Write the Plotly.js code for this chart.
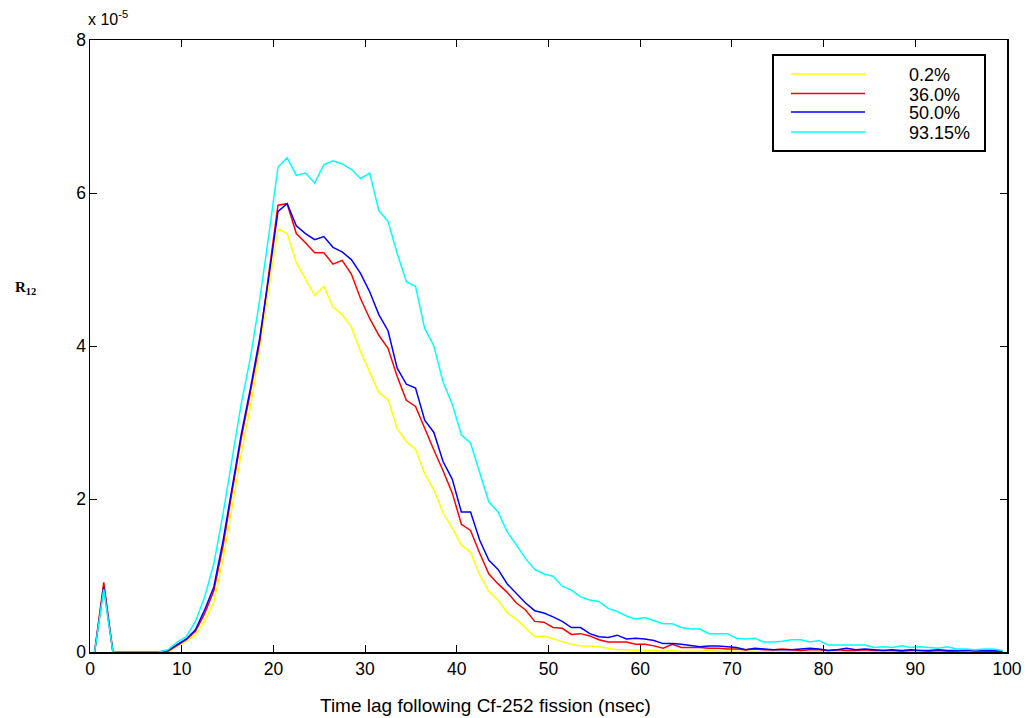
<!DOCTYPE html>
<html>
<head>
<meta charset="utf-8">
<script src="https://cdn.plot.ly/plotly-3.0.1.min.js"></script>
<style>html,body{margin:0;padding:0;background:#fff;}#chart{width:1030px;height:718px;}</style>
</head>
<body>
<div id="chart"></div>
<script>
// Time lag bin centres (nsec)
const timeLag = [0.5,1.5,2.5,3.5,4.5,5.5,6.5,7.5,8.5,9.5,10.5,11.5,12.5,13.5,14.5,15.5,16.5,17.5,18.5,19.5,
20.5,21.5,22.5,23.5,24.5,25.5,26.5,27.5,28.5,29.5,30.5,31.5,32.5,33.5,34.5,35.5,36.5,37.5,38.5,39.5,
40.5,41.5,42.5,43.5,44.5,45.5,46.5,47.5,48.5,49.5,50.5,51.5,52.5,53.5,54.5,55.5,56.5,57.5,58.5,59.5,
60.5,61.5,62.5,63.5,64.5,65.5,66.5,67.5,68.5,69.5,70.5,71.5,72.5,73.5,74.5,75.5,76.5,77.5,78.5,79.5,
80.5,81.5,82.5,83.5,84.5,85.5,86.5,87.5,88.5,89.5,90.5,91.5,92.5,93.5,94.5,95.5,96.5,97.5,98.5,99.5];

// R12 values in units of 1e-5
const r12_0_2 = [0,0.88,0,0,0,0,0,0,0,0.07,0.15,0.22,0.40,0.65,1.20,1.90,2.60,3.20,3.95,4.75,
5.53,5.47,5.09,4.88,4.66,4.78,4.51,4.41,4.25,3.93,3.66,3.39,3.30,2.92,2.75,2.65,2.33,2.12,1.82,1.62,
1.40,1.30,1.01,0.79,0.68,0.51,0.43,0.31,0.20,0.21,0.17,0.13,0.10,0.08,0.08,0.07,0.05,0.03,0.03,0.02,
0.02,0.02,0.01,0.02,0.01,0.01,0.01,0.02,0.01,0.01,0.01,0.01,0.01,0.00,0.01,0.01,0.00,0.01,0.00,0.01,
0.00,0.00,0.01,0.00,0.00,0.00,0.01,0.00,0.00,0.00,0.00,0.00,0.00,0.00,0.00,0.00,0.00,0.00,0.00,0.00];

const r12_36_0 = [0,0.91,0,0,0,0,0,0,0.01,0.09,0.16,0.27,0.50,0.80,1.38,2.10,2.80,3.40,4.05,4.95,
5.84,5.86,5.47,5.35,5.22,5.22,5.07,5.12,4.94,4.62,4.36,4.14,3.97,3.60,3.29,3.21,2.92,2.64,2.37,2.08,
1.67,1.59,1.29,1.02,0.89,0.78,0.64,0.55,0.40,0.39,0.32,0.31,0.23,0.24,0.21,0.16,0.13,0.13,0.13,0.10,
0.10,0.08,0.05,0.10,0.06,0.06,0.06,0.05,0.05,0.04,0.04,0.03,0.04,0.03,0.03,0.04,0.03,0.02,0.03,0.03,
0.02,0.03,0.02,0.02,0.03,0.02,0.02,0.02,0.01,0.02,0.02,0.01,0.02,0.01,0.01,0.02,0.01,0.01,0.01,0.01];

const r12_50_0 = [0,0.85,0,0,0,0,0,0,0.02,0.10,0.17,0.29,0.55,0.85,1.45,2.15,2.85,3.45,4.10,4.90,
5.76,5.86,5.57,5.47,5.39,5.43,5.29,5.23,5.13,4.95,4.71,4.41,4.20,3.71,3.50,3.45,3.03,2.87,2.49,2.26,
1.83,1.83,1.46,1.20,1.08,0.89,0.76,0.64,0.54,0.51,0.46,0.40,0.32,0.32,0.24,0.20,0.19,0.22,0.17,0.18,
0.17,0.15,0.11,0.11,0.10,0.08,0.07,0.08,0.08,0.07,0.06,0.03,0.05,0.04,0.03,0.03,0.03,0.04,0.05,0.04,
0.02,0.03,0.05,0.03,0.04,0.03,0.02,0.03,0.02,0.03,0.02,0.02,0.03,0.02,0.02,0.02,0.03,0.02,0.02,0.01];

const r12_93_15 = [0,0.82,0,0,0,0,0,0,0.03,0.13,0.20,0.40,0.72,1.15,1.80,2.50,3.25,3.85,4.60,5.45,
6.34,6.46,6.23,6.26,6.13,6.37,6.42,6.38,6.31,6.19,6.26,5.77,5.63,5.21,4.84,4.78,4.23,4.00,3.53,3.24,
2.84,2.73,2.36,1.96,1.83,1.57,1.40,1.22,1.08,1.02,0.99,0.86,0.81,0.72,0.68,0.66,0.57,0.53,0.47,0.43,
0.45,0.41,0.37,0.37,0.32,0.30,0.30,0.24,0.24,0.24,0.18,0.17,0.18,0.13,0.13,0.14,0.16,0.16,0.13,0.15,
0.09,0.09,0.09,0.09,0.09,0.06,0.07,0.06,0.08,0.06,0.07,0.06,0.05,0.07,0.04,0.04,0.03,0.04,0.04,0.02];

const seriesNames = ["0.2%", "36.0%", "50.0%", "93.15%"];
const seriesValues = [r12_0_2, r12_36_0, r12_50_0, r12_93_15];
const seriesColors = ["#ffff00", "#ff0000", "#0000ff", "#00ffff"];
const xTicks = [0,10,20,30,40,50,60,70,80,90,100];
const yTicks = [0,2,4,6,8];
const xTitle = 'Time lag following Cf-252 fission (nsec)';

// plot area in pixels
const L = 90, R = 1007, T = 40, B = 652;
const px = x => (x - L) / (R - L);
const py = y => (B - y) / (B - T);

const traces = seriesValues.map((vals, i) => ({
  x: timeLag, y: vals, type: 'scatter', mode: 'lines', name: seriesNames[i],
  line: {color: seriesColors[i], width: 1.5}, showlegend: false, hoverinfo: 'skip'
}));

const fam = 'Liberation Sans, Arial, sans-serif';
const tickFont = {family: fam, size: 17.5, color: '#000'};
const legFont = {family: fam, size: 18, color: '#000'};

const shapes = [{
  type: 'rect', xref: 'paper', yref: 'paper', x0: px(773), x1: px(985), y0: py(151), y1: py(55),
  line: {color: '#000', width: 2}, fillcolor: '#fff', layer: 'above'
}];
const annotations = [];
const rowY = [74, 93.5, 112, 132];
seriesNames.forEach((name, i) => {
  shapes.push({type: 'line', xref: 'paper', yref: 'paper', x0: px(791), x1: px(865), y0: py(rowY[i]), y1: py(rowY[i]),
    line: {color: seriesColors[i], width: 1.5}, layer: 'above'});
  annotations.push({xref: 'paper', yref: 'paper', x: px(907), y: py(rowY[i] + 1), xanchor: 'left', yanchor: 'middle',
    text: name, showarrow: false, font: legFont});
});
annotations.push({xref: 'paper', yref: 'paper', x: px(86), y: py(30), xanchor: 'left', yanchor: 'bottom',
  text: 'x 10<sup>-5</sup>', showarrow: false, font: {family: fam, size: 16, color: '#000'}});
annotations.push({xref: 'paper', yref: 'paper', x: px(25), y: py(288), xanchor: 'center', yanchor: 'middle',
  text: '<b>R<sub>12</sub></b>', showarrow: false, font: {family: 'Liberation Serif, Times New Roman, serif', size: 15, color: '#000'}});
annotations.push({xref: 'paper', yref: 'paper', x: px(485), y: py(705), xanchor: 'center', yanchor: 'middle',
  text: xTitle, showarrow: false, font: {family: fam, size: 19, color: '#000'}});

const axisBase = {
  showgrid: false, zeroline: false, showline: true, linecolor: '#000', linewidth: 1.5,
  mirror: 'allticks', ticks: 'inside', ticklen: 7, tickwidth: 1, tickcolor: '#000',
  tickfont: tickFont, fixedrange: true, automargin: false
};

const layout = {
  width: 1030, height: 718,
  margin: {l: L, r: 1030 - R, t: T, b: 718 - B},
  paper_bgcolor: '#fff', plot_bgcolor: '#fff',
  showlegend: false,
  xaxis: Object.assign({}, axisBase, {range: [0, 100], tickvals: xTicks, ticktext: xTicks.map(String)}),
  yaxis: Object.assign({}, axisBase, {range: [0, 8], tickvals: yTicks, ticktext: yTicks.map(String), ticklabelstandoff: -1}),
  shapes: shapes, annotations: annotations
};

Plotly.newPlot('chart', traces, layout, {displayModeBar: false, staticPlot: true});
</script>
</body>
</html>
